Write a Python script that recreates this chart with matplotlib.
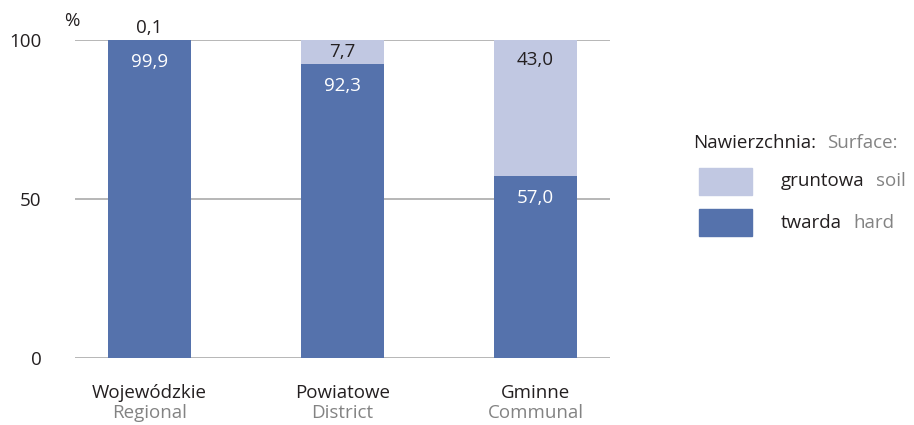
import matplotlib
matplotlib.use("Agg")
import matplotlib.pyplot as plt
from matplotlib.transforms import blended_transform_factory

categories_pl = ["Wojewódzkie", "Powiatowe", "Gminne"]
categories_en = ["Regional", "District", "Communal"]
hard = [99.9, 92.3, 57.0]
soil = [0.1, 7.7, 43.0]
hard_labels = ["99,9", "92,3", "57,0"]
soil_labels = ["0,1", "7,7", "43,0"]
yticks = [0, 50, 100]

DARK = "#5572ac"
LIGHT = "#c1c8e2"
TXT = "#231f20"
GREY = "#838383"
FONT = "Open Sans"
FS = 13.5

plt.rcParams["font.family"] = [FONT, "DejaVu Sans"]

W, H = 914, 425
fig = plt.figure(figsize=(W / 100, H / 100), dpi=100)
left, right, bottom, top = 75, 610, 358, 39.5
ax = fig.add_axes([left / W, 1 - bottom / H, (right - left) / W, (bottom - top) / H])

x = list(range(len(categories_pl)))
width = 0.432
ax.bar(x, hard, width=width, color=DARK, zorder=3)
ax.bar(x, soil, bottom=hard, width=width, color=LIGHT, zorder=3)

ax.set_xlim(-0.385, 2.386)
ax.set_ylim(0, 100)
ax.set_yticks(yticks)
ax.set_yticklabels([str(v) for v in yticks], fontsize=FS, color=TXT)
ax.tick_params(axis="y", length=0, pad=24)
ax.set_xticks([])
for s in ax.spines.values():
    s.set_visible(False)
ax.yaxis.grid(True, color="#a3a3a3", linewidth=1.1, zorder=0)
ax.set_axisbelow(True)

px_per_unit = (bottom - top) / 100.0
for i in x:
    ax.annotate(hard_labels[i], xy=(i, hard[i]), xytext=(0, -22), textcoords="offset pixels",
                ha="center", va="center", color="white", fontsize=FS, zorder=5)
    seg_px = soil[i] * px_per_unit
    if seg_px < 10:
        ax.annotate(soil_labels[i], xy=(i, hard[i] + soil[i]), xytext=(0, 12), textcoords="offset pixels",
                    ha="center", va="center", color=TXT, fontsize=FS, zorder=5, annotation_clip=False)
    else:
        off = min(20, seg_px / 2)
        ax.annotate(soil_labels[i], xy=(i, hard[i] + soil[i]), xytext=(0, -off), textcoords="offset pixels",
                    ha="center", va="center", color=TXT, fontsize=FS, zorder=5, annotation_clip=False)

trans = blended_transform_factory(ax.transData, ax.transAxes)
for i in x:
    ax.annotate(categories_pl[i], xy=(i, 0), xycoords=trans, xytext=(0, -35), textcoords="offset pixels",
                ha="center", va="center", color=TXT, fontsize=FS, annotation_clip=False)
    ax.annotate(categories_en[i], xy=(i, 0), xycoords=trans, xytext=(0, -55), textcoords="offset pixels",
                ha="center", va="center", color=GREY, fontsize=FS, annotation_clip=False)

def fpx(xp, yp):
    return xp / W, 1 - yp / H

fig.text(*fpx(64, 21), "%", ha="left", va="center", color=TXT, fontsize=FS)

# Legend
t = fig.text(*fpx(693, 143), "Nawierzchnia:", ha="left", va="center", color=TXT, fontsize=FS)
ax.annotate("Surface:", xy=(1, 0.5), xycoords=t, xytext=(11, 0), textcoords="offset pixels",
            ha="left", va="center", color=GREY, fontsize=FS)
legend_items = [("gruntowa", "soil", LIGHT, 168, 195), ("twarda", "hard", DARK, 209, 236)]
for pl, en, col, y0, y1 in legend_items:
    fig.patches.append(plt.Rectangle(fpx(699, y1), 53 / W, (y1 - y0) / H, transform=fig.transFigure,
                                     color=col, figure=fig))
    tt = fig.text(*fpx(781, (y0 + y1) / 2), pl, ha="left", va="center", color=TXT, fontsize=FS)
    ax.annotate(en, xy=(1, 0.5), xycoords=tt, xytext=(11, 0), textcoords="offset pixels",
                ha="left", va="center", color=GREY, fontsize=FS)

fig.savefig("out.png", dpi=100)
